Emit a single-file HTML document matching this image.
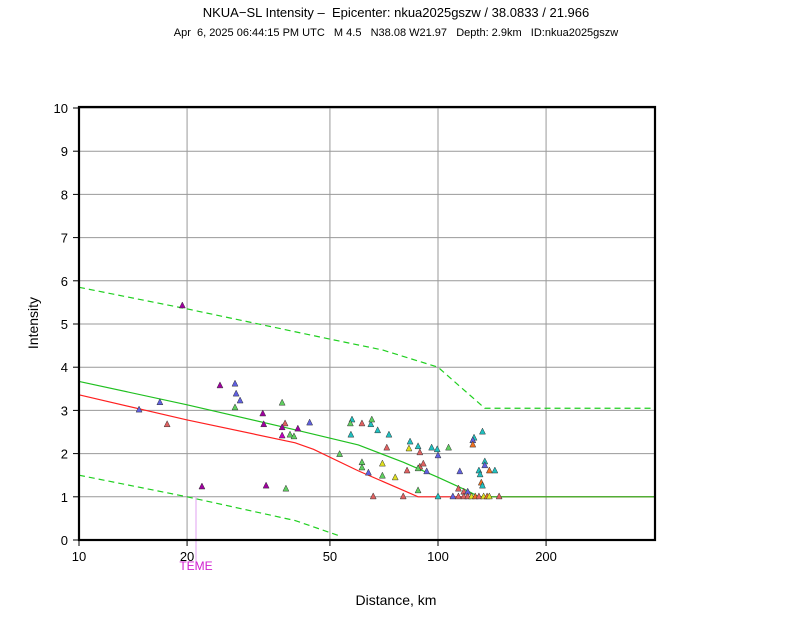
<!DOCTYPE html>
<html><head><meta charset="utf-8"><style>
body{margin:0;background:#fff;}
svg text{font-family:"Liberation Sans",sans-serif;white-space:pre;}
</style></head><body>
<svg id="chart" width="792" height="612" xmlns="http://www.w3.org/2000/svg" xml:space="preserve">
<text x="396" y="17" font-size="13" text-anchor="middle">NKUA−SL Intensity –  Epicenter: nkua2025gszw / 38.0833 / 21.966</text>
<text x="396" y="36" font-size="11" text-anchor="middle">Apr  6, 2025 06:44:15 PM UTC   M 4.5   N38.08 W21.97   Depth: 2.9km   ID:nkua2025gszw</text>
<g id="grid"></g>
<g id="curves"></g>
<g id="pts"></g>
<rect x="79" y="107" width="576" height="433" fill="none" stroke="#000" stroke-width="2.2"/>
<g id="axes"></g>
<text x="396" y="605" font-size="14" text-anchor="middle">Distance, km</text>
<text x="38" y="323" font-size="14" text-anchor="middle" transform="rotate(-90 38 323)">Intensity</text>
</svg>
<script>
const xTicks=[10,20,50,100,200];
const yTicks=[0,1,2,3,4,5,6,7,8,9,10];
const meanDist=[10,20,40,60,80,100,120,130,400];
const meanInt=[3.67,3.13,2.55,2.2,1.8,1.45,1.15,1.0,1.0];
const redDist=[10,20,40,45,60,80,88,400];
const redInt=[3.36,2.78,2.25,2.1,1.6,1.15,1.0,1.0];
const upDist=[10,20,50,70,100,135,400];
const upInt=[5.85,5.35,4.65,4.4,4.0,3.05,3.05];
const loDist=[10,20,40,53];
const loInt=[1.5,1.0,0.45,0.1];
const stDist=[19.4,14.7,16.8,17.6,24.7,27.2,27.4,28.1,27.2,22.0,32.5,32.7,33.2,36.8,37.5,36.8,36.8,38.7,39.7,40.7,43.9,37.7,
57.6,57,61.4,65,65.4,57.2,67.9,73,83.6,88,72,83,96,99.5,107,126,125,125,133,53.2,89,100,70,61.4,61.4,64,70,76,82,89,91,88,93,115,130,135,135,139,144,131,132,133,114,118,121,88,66,80,100,110,114,118,121,124,127,130,134,137,139,148];
const stInt=[5.44,3.03,3.2,2.69,3.59,3.63,3.4,3.24,3.08,1.25,2.94,2.69,1.27,3.19,2.71,2.62,2.43,2.45,2.41,2.59,2.73,1.2,
2.8,2.71,2.71,2.69,2.8,2.45,2.55,2.45,2.29,2.18,2.15,2.13,2.15,2.11,2.15,2.38,2.32,2.22,2.52,2.0,2.04,1.97,1.78,1.81,1.69,1.57,1.5,1.46,1.62,1.71,1.78,1.67,1.6,1.6,1.62,1.83,1.74,1.62,1.62,1.53,1.34,1.27,1.2,1.13,1.13,1.16,1.02,1.02,1.02,1.02,1.02,1.02,1.02,1.02,1.02,1.02,1.02,1.02,1.02,1.02];
const stColor=["#a000a0","#6060e0","#6060e0","#e06060","#a000a0","#6060e0","#6060e0","#6060e0","#60d060","#a000a0","#a000a0","#a000a0","#a000a0","#60d060","#e06060","#a000a0","#c000c0","#60d060","#60d060","#a000a0","#6060e0","#60d060",
"#20c0c0","#60d060","#e06060","#20c0c0","#60d060","#20c0c0","#20c0c0","#20c0c0","#20c0c0","#20c0c0","#e06060","#e0e020","#20c0c0","#20c0c0","#60d060","#20c0c0","#6060e0","#f07020","#20c0c0","#60d060","#e06060","#6060e0","#e0e020","#60d060","#60d060","#6060e0","#60d060","#e0e020","#e06060","#e06060","#e06060","#60d060","#6060e0","#6060e0","#20c0c0","#20c0c0","#6060e0","#f07020","#20c0c0","#20c0c0","#f07020","#20c0c0","#e06060","#e06060","#6060e0","#60d060","#e06060","#e06060","#20c0c0","#6060e0","#e06060","#e06060","#e06060","#e0e020","#f07020","#e06060","#e0e020","#f07020","#e0e020","#e06060"];
const NS="http://www.w3.org/2000/svg";
const X0=79,X1=655,Y0=540,Y1=108;
function sx(d){return X0+(Math.log10(d)-1)*359;}
function sy(v){return Y0-(v/10)*(Y0-Y1);}
function mk(t,a,p){const e=document.createElementNS(NS,t);for(const k in a)e.setAttribute(k,a[k]);p.appendChild(e);return e;}
const grid=document.getElementById('grid'),axes=document.getElementById('axes');
xTicks.forEach(t=>{const x=sx(t);
 const l=mk('line',{x1:x,x2:x,y1:107,y2:540,stroke:'#999','stroke-width':1},grid);
 
 
 const k=mk('line',{x1:x,x2:x,y1:540,y2:546,stroke:'#000'},axes);
 
 
 const tx=mk('text',{x:x,y:561,'font-size':13,'text-anchor':'middle'},axes);tx.textContent=t;
 
 
});
yTicks.forEach(t=>{const y=sy(t);
 const l=mk('line',{x1:79,x2:655,y1:y,y2:y,stroke:'#999','stroke-width':1},grid);
 
 
 const k=mk('line',{x1:73,x2:79,y1:y,y2:y,stroke:'#000'},axes);
 
 
 const tx=mk('text',{x:68,y:y+5,'font-size':13,'text-anchor':'end'},axes);tx.textContent=t;
 
 
});
const curves=document.getElementById('curves');
function line(ds,vs,col,dash,name){
 const p=mk('polyline',{points:ds.map((d,i)=>sx(d)+','+sy(vs[i])).join(' '),fill:'none',stroke:col,'stroke-width':1.2,'stroke-dasharray':dash},curves);
 
 
}
line(upDist,upInt,'#20d020','6,4','upper-bound-line');
line(loDist,loInt,'#20d020','6,4','lower-bound-line');
line(redDist,redInt,'#ff2020','none','ipe-line');
line(meanDist,meanInt,'#20c020','none','gmpe-mean-line');
const ln=mk('line',{x1:196,x2:196,y1:496,y2:570,stroke:'#e0a0f0','stroke-width':1},curves);


const tl=mk('text',{x:196,y:570,'font-size':12,'text-anchor':'middle',fill:'#d020d0'},curves);tl.textContent='TEME';


const pts=document.getElementById('pts');
stDist.forEach((d,i)=>{const x=sx(d),y=sy(stInt[i]);
 const t=mk('polygon',{points:`${x-3},${y+3} ${x+3},${y+3} ${x},${y-3}`,fill:stColor[i],stroke:'#333','stroke-width':0.5},pts);
 
 
});
</script>
</body></html>
